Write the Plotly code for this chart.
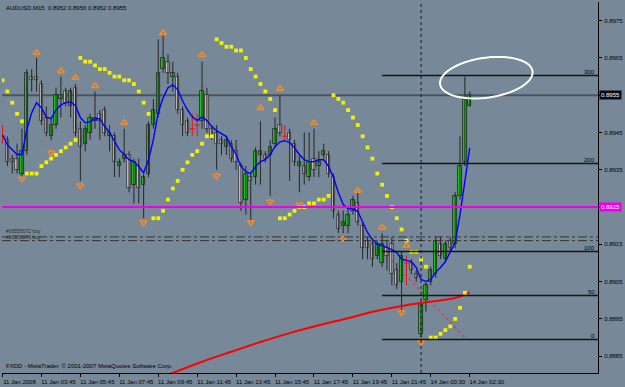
import math
import plotly.graph_objects as go

# ---------------- data ----------------
bar_idx = list(range(97))
opens = [0.8944, 0.8943, 0.8938, 0.8938, 0.8934, 0.8940, 0.8960, 0.8960, 0.8958, 0.8949,
         0.8944, 0.8947, 0.8954, 0.8956, 0.8952, 0.8957, 0.8946, 0.8942, 0.8945, 0.8948,
         0.8950, 0.8951, 0.8944, 0.8944, 0.8936, 0.8938, 0.8939, 0.8931, 0.8936, 0.8931,
         0.8934, 0.8947, 0.8950, 0.8962, 0.8964, 0.8960, 0.8960, 0.8951, 0.8948, 0.8946,
         0.8947, 0.8948, 0.8955, 0.8946, 0.8945, 0.8943, 0.8941, 0.8942, 0.8940, 0.8936,
         0.8927, 0.8933, 0.8933, 0.8939, 0.8939, 0.8939, 0.8942, 0.8947, 0.8944, 0.8945,
         0.8942, 0.8936, 0.8936, 0.8933, 0.8938, 0.8936, 0.8939, 0.8939, 0.8933, 0.8923,
         0.8920, 0.8920, 0.8924, 0.8926, 0.8920, 0.8916, 0.8915, 0.8912, 0.8910, 0.8914,
         0.8915, 0.8908, 0.8905, 0.8910, 0.8910, 0.8907, 0.8891, 0.8900, 0.8905, 0.8907,
         0.8915, 0.8911, 0.8916, 0.8915, 0.8928, 0.8937, 0.8952]
highs = [0.8947, 0.8944, 0.8939, 0.8942, 0.8946, 0.8962, 0.8962, 0.8965, 0.8959, 0.8952,
         0.8949, 0.8957, 0.8960, 0.8957, 0.8957, 0.8958, 0.8948, 0.8947, 0.8950, 0.8956,
         0.8951, 0.8952, 0.8947, 0.8945, 0.8938, 0.8946, 0.8940, 0.8938, 0.8938, 0.8934,
         0.8948, 0.8954, 0.8970, 0.8971, 0.8966, 0.8964, 0.8961, 0.8952, 0.8949, 0.8950,
         0.8950, 0.8964, 0.8957, 0.8947, 0.8947, 0.8944, 0.8944, 0.8943, 0.8943, 0.8937,
         0.8936, 0.8934, 0.8941, 0.8948, 0.8940, 0.8943, 0.8949, 0.8955, 0.8947, 0.8946,
         0.8943, 0.8939, 0.8945, 0.8945, 0.8946, 0.8940, 0.8942, 0.8940, 0.8934, 0.8924,
         0.8924, 0.8925, 0.8928, 0.8929, 0.8921, 0.8917, 0.8916, 0.8916, 0.8918, 0.8916,
         0.8917, 0.8910, 0.8913, 0.8912, 0.8911, 0.8908, 0.8900, 0.8905, 0.8909, 0.8917,
         0.8917, 0.8916, 0.8917, 0.8929, 0.8944, 0.8960, 0.8956]
lows = [0.8942, 0.8936, 0.8934, 0.8934, 0.8933, 0.8939, 0.8956, 0.8956, 0.8947, 0.8944,
        0.8943, 0.8946, 0.8949, 0.8952, 0.8949, 0.8944, 0.8932, 0.8940, 0.8943, 0.8946,
        0.8943, 0.8944, 0.8940, 0.8933, 0.8933, 0.8937, 0.8929, 0.8926, 0.8926, 0.8922,
        0.8933, 0.8946, 0.8949, 0.8961, 0.8958, 0.8956, 0.8950, 0.8944, 0.8944, 0.8944,
        0.8944, 0.8946, 0.8945, 0.8943, 0.8935, 0.8939, 0.8939, 0.8937, 0.8935, 0.8924,
        0.8923, 0.8921, 0.8931, 0.8931, 0.8937, 0.8928, 0.8941, 0.8944, 0.8943, 0.8932,
        0.8936, 0.8929, 0.8931, 0.8932, 0.8933, 0.8933, 0.8938, 0.8933, 0.8922, 0.8918,
        0.8918, 0.8918, 0.8923, 0.8920, 0.8911, 0.8911, 0.8909, 0.8911, 0.8909, 0.8908,
        0.8904, 0.8903, 0.8897, 0.8904, 0.8907, 0.8905, 0.8890, 0.8897, 0.8904, 0.8906,
        0.8911, 0.8910, 0.8913, 0.8914, 0.8927, 0.8936, 0.8952]
closes = [0.8944, 0.8937, 0.8937, 0.8935, 0.8940, 0.8961, 0.8959, 0.8959, 0.8948, 0.8945,
          0.8947, 0.8955, 0.8955, 0.8953, 0.8956, 0.8945, 0.8941, 0.8946, 0.8949, 0.8949,
          0.8948, 0.8945, 0.8945, 0.8937, 0.8937, 0.8939, 0.8930, 0.8937, 0.8930, 0.8933,
          0.8947, 0.8951, 0.8961, 0.8965, 0.8961, 0.8961, 0.8951, 0.8947, 0.8945, 0.8946,
          0.8947, 0.8956, 0.8946, 0.8944, 0.8942, 0.8942, 0.8943, 0.8938, 0.8937, 0.8926,
          0.8934, 0.8932, 0.8940, 0.8940, 0.8938, 0.8941, 0.8946, 0.8945, 0.8944, 0.8943,
          0.8937, 0.8937, 0.8934, 0.8937, 0.8935, 0.8937, 0.8940, 0.8934, 0.8924, 0.8919,
          0.8921, 0.8923, 0.8927, 0.8921, 0.8914, 0.8914, 0.8911, 0.8915, 0.8915, 0.8912,
          0.8907, 0.8904, 0.8912, 0.8910, 0.8908, 0.8906, 0.8899, 0.8904, 0.8908, 0.8916,
          0.8912, 0.8915, 0.8914, 0.8928, 0.8936, 0.8954, 0.8955]

# Parabolic SAR (one dot per bar)
sar_vals = [0.8959, 0.8956, 0.8953, 0.8950, 0.8948, 0.8934, 0.8934, 0.8934, 0.8936, 0.8937,
            0.8938, 0.8939, 0.8940, 0.8941, 0.8942, 0.8943, 0.8965, 0.8964, 0.8964, 0.8963,
            0.8962, 0.8962, 0.8961, 0.8960, 0.8960, 0.8959, 0.8959, 0.8958, 0.8956, 0.8953,
            0.8950, 0.8922, 0.8922, 0.8924, 0.8927, 0.8930, 0.8932, 0.8935, 0.8937, 0.8939,
            0.8940, 0.8942, 0.8944, 0.8944, 0.8970, 0.8969, 0.8968, 0.8968, 0.8967, 0.8967,
            0.8965, 0.8962, 0.8960, 0.8958, 0.8956, 0.8954, 0.8951, 0.8922, 0.8922, 0.8923,
            0.8924, 0.8925, 0.8925, 0.8926, 0.8926, 0.8927, 0.8927, 0.8928, 0.8955, 0.8954,
            0.8953, 0.8951, 0.8949, 0.8947, 0.8944, 0.8941, 0.8938, 0.8934, 0.8931, 0.8928,
            0.8925, 0.8922, 0.8919, 0.8916, 0.8913, 0.8913, 0.8911, 0.8909, 0.8890, 0.8890,
            0.8891, 0.8892, 0.8893, 0.8895, 0.8898, 0.8902, 0.8909]

# fast moving average (blue)
ma_fast = [0.89444, 0.89417, 0.89404, 0.89391, 0.89391, 0.89458, 0.89503, 0.89530, 0.89516, 0.89492,
           0.89487, 0.89511, 0.89524, 0.89530, 0.89532, 0.89522, 0.89490, 0.89476, 0.89479, 0.89487,
           0.89487, 0.89466, 0.89450, 0.89425, 0.89404, 0.89391, 0.89377, 0.89372, 0.89359, 0.89342,
           0.89377, 0.89431, 0.89503, 0.89543, 0.89570, 0.89578, 0.89565, 0.89535, 0.89511, 0.89492,
           0.89482, 0.89492, 0.89482, 0.89466, 0.89455, 0.89447, 0.89439, 0.89412, 0.89391, 0.89359,
           0.89345, 0.89340, 0.89359, 0.89372, 0.89377, 0.89391, 0.89412, 0.89425, 0.89428, 0.89423,
           0.89409, 0.89391, 0.89377, 0.89372, 0.89372, 0.89377, 0.89377, 0.89359, 0.89329, 0.89289,
           0.89257, 0.89246, 0.89246, 0.89238, 0.89211, 0.89182, 0.89163, 0.89150, 0.89147, 0.89142,
           0.89136, 0.89128, 0.89110, 0.89107, 0.89104, 0.89088, 0.89056, 0.89051, 0.89056, 0.89075,
           0.89088, 0.89104, 0.89128, 0.89155, 0.89230, 0.89324, 0.89409]

# slow moving average (red), read at a few bars
ma_slow_bars = [34, 41, 47, 53, 59, 65, 71, 77, 83, 89, 93, 96]
ma_slow_vals = [0.88800, 0.88835, 0.88862, 0.88888, 0.88912, 0.88933, 0.88952, 0.88972,
                0.88987, 0.88998, 0.89006, 0.89021]

# fractals
fr_up_bars = [7, 12, 15, 19, 25, 33, 41, 53, 57, 64, 73, 78, 83]
fr_up_vals = [0.89664, 0.89615, 0.89597, 0.89575, 0.89476, 0.89717, 0.89658, 0.89516,
              0.89567, 0.89476, 0.89294, 0.89195, 0.89147]
fr_dn_bars = [4, 10, 16, 29, 44, 51, 55, 61, 70, 82, 86]
fr_dn_vals = [0.89326, 0.89396, 0.89308, 0.89209, 0.89334, 0.89209, 0.89265, 0.89257,
              0.89166, 0.88968, 0.88888]

# time axis
time_tick_bars = [0, 8, 16, 24, 32, 40, 48, 56, 64, 72, 80, 88, 96]
time_tick_labels = ["11 Jan 2008", "11 Jan 03:45", "11 Jan 05:45", "11 Jan 07:45",
                    "11 Jan 09:45", "11 Jan 11:45", "11 Jan 13:45", "11 Jan 15:45",
                    "11 Jan 17:45", "11 Jan 19:45", "11 Jan 21:45", "14 Jan 00:30",
                    "14 Jan 02:30"]
price_ticks = [0.8885, 0.8895, 0.8905, 0.8915, 0.8925, 0.8935, 0.8945, 0.8955, 0.8965, 0.8975]

# objects
fib_anchor_bar = 78
fib_zero = 0.88895
fib_hundred = 0.89131
fib_levels = [0, 50, 100, 200, 300]
bid_price = 0.8955
magenta_level = 0.8925
order_levels = [0.8917, 0.8916]
order_labels = ["#16555072 buy", "#16555076 buy"]
day_sep_bar = 86
trade_line_bars = [79.2, 94.9]
trade_line_vals = [0.89117, 0.88901]
ellipse_center = (99.4, 0.89597)
title_text = "AUDUSD,M15  0.8952 0.8956 0.8952 0.8955"
copyright_text = "FXDD - MetaTrader, © 2001-2007 MetaQuotes Software Corp."

# ---------------- layout constants ----------------
W, H = 625, 387
ML, MR, MT, MB = 2, 23, 2, 13
PW, PH = W - ML - MR, H - MT - MB
XR = [-0.1, 122.35]
YR = [0.88805, 0.89800]
BG = "#778899"
FONT = "Liberation Sans, Arial, sans-serif"
ORANGE = "#f08a2a"

fig = go.Figure()

# wicks / bodies
wx, wy, dx, dy, dox, doy = [], [], [], [], [], []
bull_x, bull_b, bull_h, bear_x, bear_b, bear_h = [], [], [], [], [], []
for b, o, h, l, c in zip(bar_idx, opens, highs, lows, closes):
    if abs(c - o) < 1e-9:
        dx += [b, b, None]
        dy += [l, h, None]
        dox.append(b)
        doy.append(o)
    else:
        wx += [b, b, None]
        wy += [l, h, None]
        if c > o:
            bull_x.append(b); bull_b.append(o); bull_h.append(c - o)
        else:
            bear_x.append(b); bear_b.append(c); bear_h.append(o - c)

fig.add_trace(go.Scatter(x=wx, y=wy, mode="lines", line=dict(color="#262626", width=1),
                         hoverinfo="skip", showlegend=False))
fig.add_trace(go.Bar(x=bull_x, y=bull_h, base=bull_b, width=0.68,
                     marker=dict(color="#1ecc1e", line=dict(color="#202020", width=0.8)),
                     showlegend=False, hoverinfo="skip"))
fig.add_trace(go.Bar(x=bear_x, y=bear_h, base=bear_b, width=0.68,
                     marker=dict(color="#c4c4c4", line=dict(color="#303030", width=0.8)),
                     showlegend=False, hoverinfo="skip"))
fig.add_trace(go.Scatter(x=dx, y=dy, mode="lines", line=dict(color="#e01818", width=1),
                         hoverinfo="skip", showlegend=False))
fig.add_trace(go.Scatter(x=dox, y=doy, mode="markers",
                         marker=dict(symbol="line-ew", size=4, color="#e01818",
                                     line=dict(color="#e01818", width=1)),
                         hoverinfo="skip", showlegend=False))

# slow MA (red)
fig.add_trace(go.Scatter(x=ma_slow_bars, y=ma_slow_vals, mode="lines",
                         line=dict(color="#ff0000", width=2, shape="spline"),
                         hoverinfo="skip", showlegend=False))
# trade line
fig.add_trace(go.Scatter(x=trade_line_bars, y=trade_line_vals, mode="lines",
                         line=dict(color="#e02020", width=1, dash="dot"),
                         hoverinfo="skip", showlegend=False))
# fast MA (blue)
fig.add_trace(go.Scatter(x=bar_idx, y=ma_fast, mode="lines",
                         line=dict(color="#0000ff", width=1.4),
                         hoverinfo="skip", showlegend=False))
# SAR
fig.add_trace(go.Scatter(x=bar_idx, y=sar_vals, mode="markers",
                         marker=dict(symbol="square", size=3.8, color="#f2f200", line=dict(width=0)),
                         hoverinfo="skip", showlegend=False))
# fractals
fig.add_trace(go.Scatter(x=fr_up_bars, y=fr_up_vals, mode="markers",
                         marker=dict(symbol="triangle-up-open", size=6, color=ORANGE,
                                     line=dict(color=ORANGE, width=1.6)),
                         hoverinfo="skip", showlegend=False))
fig.add_trace(go.Scatter(x=fr_dn_bars, y=fr_dn_vals, mode="markers",
                         marker=dict(symbol="triangle-down-open", size=6, color=ORANGE,
                                     line=dict(color=ORANGE, width=1.6)),
                         hoverinfo="skip", showlegend=False))

shapes = []
shapes.append(dict(type="line", xref="paper", x0=0, x1=1, yref="y", y0=bid_price, y1=bid_price,
                   line=dict(color="#4a5561", width=2), layer="below"))
shapes.append(dict(type="line", xref="paper", x0=0, x1=1, yref="y", y0=magenta_level, y1=magenta_level,
                   line=dict(color="#ee00ee", width=2)))
for lv in order_levels:
    shapes.append(dict(type="line", xref="paper", x0=0, x1=1, yref="y", y0=lv, y1=lv,
                       line=dict(color="#333333", width=1, dash="dashdot")))
fib_step = (fib_hundred - fib_zero) / 100.0
for lv in fib_levels:
    yv = fib_zero + lv * fib_step
    shapes.append(dict(type="line", xref="x", x0=fib_anchor_bar, x1=XR[1], yref="y", y0=yv, y1=yv,
                       line=dict(color="#151515", width=1.5)))
shapes.append(dict(type="line", xref="x", x0=day_sep_bar, x1=day_sep_bar, yref="paper", y0=0, y1=1,
                   line=dict(color="#1a1a1a", width=1, dash="dot")))
xpp = (XR[1] - XR[0]) / PW
ypp = (YR[1] - YR[0]) / PH
rx_px, ry_px, ang = 47, 20, math.radians(-8)
pts = []
for k in range(73):
    t = 2 * math.pi * k / 72
    ex = rx_px * math.cos(t) * math.cos(ang) - ry_px * math.sin(t) * math.sin(ang)
    ey = rx_px * math.cos(t) * math.sin(ang) + ry_px * math.sin(t) * math.cos(ang)
    pts.append((ellipse_center[0] + ex * xpp, ellipse_center[1] - ey * ypp))
path = "M " + " L ".join(f"{px:.4f},{py:.6f}" for px, py in pts) + " Z"
shapes.append(dict(type="path", path=path, xref="x", yref="y",
                   line=dict(color="#ffffff", width=2)))

ann = []
ann.append(dict(text=title_text, xref="paper", yref="paper", x=0, y=1, xanchor="left", yanchor="top",
                xshift=2, yshift=-1, showarrow=False, font=dict(size=6, color="#000000", family=FONT)))
ann.append(dict(text=copyright_text, xref="paper", yref="paper", x=0, y=0, xanchor="left", yanchor="bottom",
                xshift=2, yshift=2, showarrow=False, font=dict(size=6, color="#000000", family=FONT)))
for lv in fib_levels:
    yv = fib_zero + lv * fib_step
    ann.append(dict(text=str(lv), xref="paper", yref="y", x=1, y=yv, xanchor="right", yanchor="bottom",
                    xshift=-1, yshift=-2, showarrow=False, font=dict(size=6, color="#000000", family=FONT)))
for lv, lab, sh in zip(order_levels, order_labels, [1, -1]):
    ann.append(dict(text=lab, xref="paper", yref="y", x=0, y=lv, xanchor="left", yanchor="bottom",
                    xshift=2, yshift=sh, showarrow=False, font=dict(size=5, color="#2a2a2a", family=FONT)))
ann.append(dict(text=f"{bid_price:.4f}", xref="paper", yref="y", x=1, y=bid_price, xanchor="left",
                yanchor="middle", xshift=1, showarrow=False, bgcolor="#0a0a14", borderpad=1,
                font=dict(size=6, color="#ffffff", family=FONT)))
ann.append(dict(text=f"{magenta_level:.4f}", xref="paper", yref="y", x=1, y=magenta_level, xanchor="left",
                yanchor="middle", xshift=1, showarrow=False, bgcolor="#ee00ee", borderpad=1,
                font=dict(size=6, color="#ffffff", family=FONT)))

ytext = ["" if abs(v - bid_price) < 1e-9 or abs(v - magenta_level) < 1e-9 else f"{v:.4f}" for v in price_ticks]

fig.update_layout(
    width=W, height=H, margin=dict(l=ML, r=MR, t=MT, b=MB),
    paper_bgcolor=BG, plot_bgcolor=BG, barmode="overlay", bargap=0,
    shapes=shapes, annotations=ann, showlegend=False,
    font=dict(family=FONT, size=6, color="#000000"),
    xaxis=dict(range=XR, tickvals=time_tick_bars, ticktext=time_tick_labels, ticks="outside",
               ticklen=3, tickcolor="#000000", showline=True, linecolor="#000000", linewidth=1,
               showgrid=False, zeroline=False, tickfont=dict(size=6, family=FONT, color="#000000"),
               ticklabelshift=17, ticklabelstandoff=0, fixedrange=True),
    yaxis=dict(range=YR, side="right", tickvals=price_ticks, ticktext=ytext, ticks="outside",
               ticklen=3, tickcolor="#000000", showline=True, linecolor="#000000", linewidth=1,
               showgrid=False, zeroline=False, tickfont=dict(size=6, family=FONT, color="#000000"),
               ticklabelstandoff=1, fixedrange=True),
)

fig.write_html("out.html")
